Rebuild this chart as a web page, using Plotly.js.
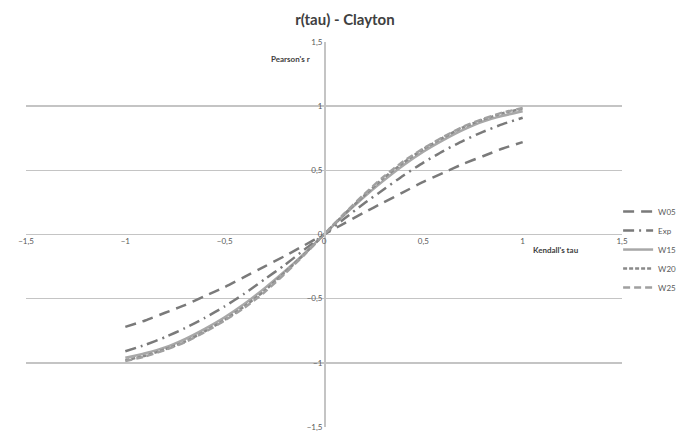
<!DOCTYPE html>
<html>
<head>
<meta charset="utf-8">
<script src="https://cdn.plot.ly/plotly-3.0.1.min.js"></script>
<style>html,body{margin:0;padding:0;background:#fff;}#chart{width:683px;height:434px;}</style>
</head>
<body>
<div id="chart"></div>
<script>
const tau = [-1, -0.9, -0.8, -0.7, -0.6, -0.5, -0.4, -0.3, -0.2, -0.1, 0, 0.1, 0.2, 0.3, 0.4, 0.5, 0.6, 0.7, 0.8, 0.9, 1];
const W05 = [-0.72, -0.67, -0.61, -0.55, -0.48, -0.41, -0.33, -0.25, -0.17, -0.085, 0, 0.085, 0.17, 0.25, 0.33, 0.41, 0.48, 0.55, 0.61, 0.67, 0.72];
const Exp = [-0.91, -0.86, -0.80, -0.73, -0.65, -0.56, -0.46, -0.35, -0.24, -0.12, 0, 0.12, 0.24, 0.35, 0.46, 0.56, 0.65, 0.73, 0.80, 0.86, 0.91];
const W15 = [-0.96, -0.925, -0.88, -0.815, -0.735, -0.645, -0.54, -0.42, -0.29, -0.15, 0, 0.15, 0.29, 0.42, 0.54, 0.645, 0.735, 0.815, 0.88, 0.925, 0.96];
const W20 = [-0.98, -0.945, -0.895, -0.835, -0.755, -0.665, -0.56, -0.44, -0.30, -0.155, 0, 0.155, 0.30, 0.44, 0.56, 0.665, 0.755, 0.835, 0.895, 0.945, 0.98];
const W25 = [-0.985, -0.95, -0.90, -0.84, -0.76, -0.67, -0.57, -0.45, -0.31, -0.16, 0, 0.16, 0.31, 0.45, 0.57, 0.67, 0.76, 0.84, 0.90, 0.95, 0.985];
const seriesNames = ["W05", "Exp", "W15", "W20", "W25"];
const xTicks = [-1.5, -1, -0.5, 0, 0.5, 1, 1.5];
const yTicks = [-1.5, -1, -0.5, 0, 0.5, 1, 1.5];

const styles = [
  {color: "#7a7a7a", dash: "11px,7px", width: 2.5},
  {color: "#7a7a7a", dash: "11px,5px,2px,5px", width: 2.5},
  {color: "#a8a8a8", dash: "solid", width: 2.5},
  {color: "#8a8a8a", dash: "4px,2px", width: 2.5},
  {color: "#a0a0a0", dash: "7px,4px", width: 2.5}
];
const data = [W05, Exp, W15, W20, W25].map((ys, i) => ({
  x: tau, y: ys, name: seriesNames[i], type: "scatter", mode: "lines",
  line: Object.assign({shape: "spline", smoothing: 0.6}, styles[i])
}));

const tickFont = {family: "Lato, 'Open Sans', sans-serif", size: 8, color: "#595959"};
const layout = {
  width: 683, height: 434,
  margin: {l: 26, r: 61, t: 42, b: 7, autoexpand: false},
  paper_bgcolor: "#fff", plot_bgcolor: "#fff",
  separators: ", ",
  title: {text: "<b>r(tau) - Clayton</b>", x: 0.505, xanchor: "center", y: 0.955, yanchor: "middle",
          font: {family: "Lato, 'Open Sans', sans-serif", size: 15, color: "#404040"}},
  showlegend: true,
  legend: {xref: "container", yref: "container", x: 0.905, xanchor: "left", y: 0.425, yanchor: "middle",
           font: {family: "Lato, sans-serif", size: 8, color: "#595959"},
           bgcolor: "rgba(0,0,0,0)", itemwidth: 30, tracegroupgap: 0},
  xaxis: {range: [-1.5, 1.5], tickvals: xTicks, showgrid: false, zeroline: false,
          anchor: "free", position: 0.5, showline: false, ticks: "", tickfont: tickFont, fixedrange: true},
  yaxis: {range: [-1.5, 1.5], tickvals: yTicks, showgrid: true, gridcolor: "#c4c4c4", gridwidth: 1.5,
          zeroline: true, zerolinecolor: "#c4c4c4", zerolinewidth: 1.5,
          anchor: "free", position: 0.5, showline: true, linecolor: "#c4c4c4", linewidth: 1.5,
          ticks: "", tickfont: tickFont, fixedrange: true},
  annotations: [
    {text: "<b>Pearson's r</b>", xref: "paper", yref: "paper", x: 0.48, y: 0.955, xanchor: "right", yanchor: "middle",
     showarrow: false, font: {family: "Lato, sans-serif", size: 8, color: "#404040"}},
    {text: "<b>Kendall's tau</b>", xref: "paper", yref: "paper", x: 0.89, y: 0.46, xanchor: "center", yanchor: "middle",
     showarrow: false, font: {family: "Lato, sans-serif", size: 8, color: "#404040"}}
  ]
};
Plotly.newPlot("chart", data, layout, {displayModeBar: false, staticPlot: true});
</script>
</body>
</html>
